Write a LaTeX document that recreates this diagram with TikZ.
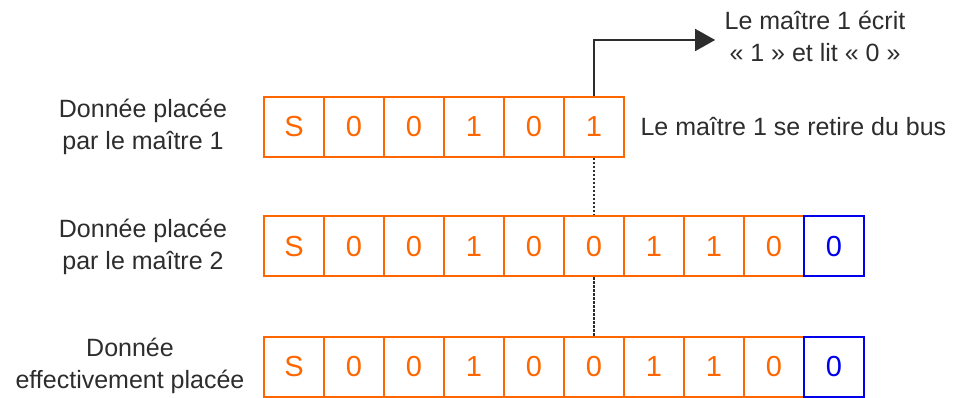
\documentclass[tikz,border=0pt]{standalone}
\usepackage{fontspec}
\setmainfont{Liberation Sans}
\usetikzlibrary{positioning,arrows.meta}
\definecolor{bitorange}{RGB}{255,102,0}
\definecolor{bitblue}{RGB}{0,0,235}
\definecolor{txtgray}{RGB}{45,45,45}

\begin{document}
\begin{tikzpicture}[x=1pt,y=1pt,
    bit/.style={draw=bitorange, line width=2pt, text=bitorange, minimum width=60pt,
        minimum height=60pt, inner sep=0pt, font=\fontsize{29}{29}\selectfont},
    lastbit/.style={bit, draw=bitblue, text=bitblue},
    lbl/.style={align=center, text=txtgray, font=\fontsize{25}{32}\selectfont},
    link/.style={draw=txtgray, line width=1.5pt}]
    \useasboundingbox (0,0) rectangle (954,398);
    % trames
    \foreach \b [count=\i] in {S,0,0,1,0,1}
        \node[bit] (a\i) at (234+60*\i,271) {\b};
    \foreach \b [count=\i] in {S,0,0,1,0,0,1,1,0}
        \node[bit] (b\i) at (234+60*\i,151.5) {\b};
    \node[lastbit] (b10) at (834,151.5) {0};
    \foreach \b [count=\i] in {S,0,0,1,0,0,1,1,0}
        \node[bit] (c\i) at (234+60*\i,31) {\b};
    \node[lastbit] (c10) at (834,31) {0};
    % textes
    \node[lbl] (m1) at (143,271) {Donnée placée\\par le maître 1};
    \node[lbl] (m2) at (143,151.5) {Donnée placée\\par le maître 2};
    \node[lbl] (eff) at (130,32) {Donnée\\effectivement placée};
    \node[lbl, right=12pt of a6] (retire) {Le maître 1 se retire du bus};
    \node[lbl] (ecrit) at (815,362) {Le maître 1 écrit\\« 1 » et lit « 0 »};
    % liaisons
    \draw[link, -{Triangle[length=20pt,width=22pt]}] (a6.north) |- ([xshift=-6pt,yshift=-4pt]ecrit.west);
    \draw[link, line width=1.2pt, dash pattern=on 2.5pt off 1.5pt] (a6.south) -- (b6.north);
    \draw[link, line width=1.2pt, dash pattern=on 2.5pt off 1.5pt] (b6.south) -- (c6.north);
\end{tikzpicture}
\end{document}
